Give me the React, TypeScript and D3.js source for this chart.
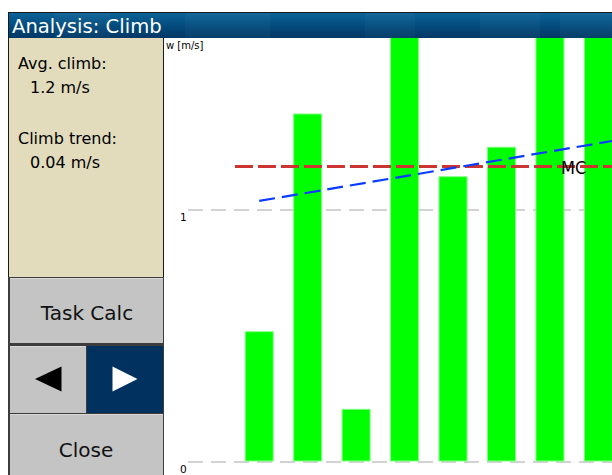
import React from "react";
import * as d3 from "d3";

// ---- data ----
const climbIndex = [0, 1, 2, 3, 4, 5, 6, 7];
const climbRates = [0.517, 1.381, 0.209, 1.85, 1.132, 1.249, 1.9, 1.75];
const yTicks = [0, 1];
const mcValue = 1.173;
const mcRange = [-0.5, 8];
const trendIndex = [0, 7.5];
const trendValues = [1.036, 1.281];
const infoLabels = ["Avg. climb:", "Climb trend:"];
const infoValues = ["1.2 m/s", "0.04 m/s"];
const title = "Analysis: Climb";
const yAxisLabel = "w [m/s]";

const W = 612;
const H = 475;
const chart = { left: 164, top: 38, right: 612, bottom: 475 };

export default function App() {
  const x = d3.scaleLinear().domain([0, 7]).range([259.2, 598.4]);
  const y = d3.scaleLinear().domain([0, 1]).range([462, 210]);
  const bw = 28;
  const line = d3
    .line<[number, number]>()
    .x((d) => x(d[0]))
    .y((d) => y(d[1]));
  const trendPts: [number, number][] = trendIndex.map((t, i) => [t, trendValues[i]]);
  const mcPts: [number, number][] = mcRange.map((t) => [t, mcValue]);
  const font = "'DejaVu Sans', sans-serif";

  return (
    <svg
      width={W}
      height={H}
      style={{ position: "fixed", left: 0, top: 0, background: "#fff" }}
    >
      <defs>
        <linearGradient id="tb" x1="0" y1="0" x2="0" y2="1">
          <stop offset="0" stopColor="#0b6398" />
          <stop offset="0.5" stopColor="#044c7e" />
          <stop offset="1" stopColor="#013866" />
        </linearGradient>
        <clipPath id="plot">
          <rect
            x={chart.left}
            y={chart.top}
            width={chart.right - chart.left}
            height={chart.bottom - chart.top}
          />
        </clipPath>
      </defs>
      <rect x={0} y={0} width={W} height={H} fill="#fff" />
      {/* frame */}
      <rect x={8} y={12} width={W - 8} height={H - 12} fill="#1a1a1a" />
      {/* title bar */}
      <rect x={9} y={13} width={W - 9} height={25} fill="url(#tb)" />
      {[
        [55, 55],
        [185, 85],
        [365, 50],
        [480, 60],
        [560, 52],
      ].map(([a, w], i) => (
        <rect key={i} x={a} y={13} width={w} height={25} fill="#ffffff" opacity={0.03} />
      ))}
      <text x={12} y={33} fill="#fff" fontFamily={font} fontSize={19.6}>
        {title}
      </text>
      {/* info panel */}
      <rect x={9} y={38} width={154} height={239} fill="#e2dcbd" />
      {infoLabels.map((l, i) => (
        <g key={l}>
          <text x={18} y={69 + i * 75} fontFamily={font} fontSize={16} fill="#000">
            {l}
          </text>
          <text x={30} y={93 + i * 75} fontFamily={font} fontSize={16} fill="#000">
            {infoValues[i]}
          </text>
        </g>
      ))}
      {/* buttons */}
      <rect x={8} y={277} width={156} height={198} fill="#3c3c3c" />
      <rect x={10} y={278} width={153} height={65} fill="#c4c4c4" />
      <rect x={10} y={346} width={76} height={67} fill="#c4c4c4" />
      <rect x={87} y={346} width={76} height={67} fill="#00315f" />
      <rect x={10} y={414} width={153} height={61} fill="#c4c4c4" />
      <line x1={10} x2={163} y1={278.5} y2={278.5} stroke="#d8d8d8" />
      <line x1={10} x2={86} y1={346.5} y2={346.5} stroke="#d8d8d8" />
      <line x1={10} x2={163} y1={414.5} y2={414.5} stroke="#d8d8d8" />
      <text x={87} y={320} textAnchor="middle" fontFamily={font} fontSize={20} fill="#111">
        Task Calc
      </text>
      <text x={86} y={457} textAnchor="middle" fontFamily={font} fontSize={20} fill="#111">
        Close
      </text>
      <path d="M35,379 L61.5,366.5 L61.5,391.5 Z" fill="#000" />
      <path d="M137.5,379 L112.5,366.5 L112.5,391.5 Z" fill="#fff" />
      {/* chart area */}
      <rect
        x={chart.left}
        y={chart.top}
        width={chart.right - chart.left}
        height={chart.bottom - chart.top}
        fill="#fff"
      />
      <text x={166} y={49} fontFamily={font} fontSize={10} fill="#000">
        {yAxisLabel}
      </text>
      {yTicks.map((t) => (
        <g key={t}>
          <line
            x1={188}
            x2={W}
            y1={y(t)}
            y2={y(t)}
            stroke="#c4c4c4"
            strokeWidth={1.5}
            strokeDasharray="15 8"
          />
          <text x={180} y={y(t) + 11} fontFamily={font} fontSize={10.5} fill="#000">
            {t}
          </text>
        </g>
      ))}
      <g clipPath="url(#plot)">
        {climbIndex.map((c, i) => (
          <rect
            key={c}
            x={x(c) - bw / 2}
            y={y(climbRates[i])}
            width={bw}
            height={y(0) - 1 - y(climbRates[i])}
            fill="#00ff00"
            stroke="#7fff7f"
            strokeWidth={1}
          />
        ))}
        <path
          d={line(mcPts) || ""}
          fill="none"
          stroke="#cc3333"
          strokeWidth={3}
          strokeDasharray="18 5"
        />
        <path
          d={line(trendPts) || ""}
          fill="none"
          stroke="#0a3cff"
          strokeWidth={2.2}
          strokeDasharray="16 7"
        />
        <text
          x={561}
          y={y(mcValue) + 8}
          fontFamily="'DejaVu Sans Condensed', 'DejaVu Sans', sans-serif"
          fontSize={18}
          fill="#000"
        >
          MC
        </text>
      </g>
    </svg>
  );
}
